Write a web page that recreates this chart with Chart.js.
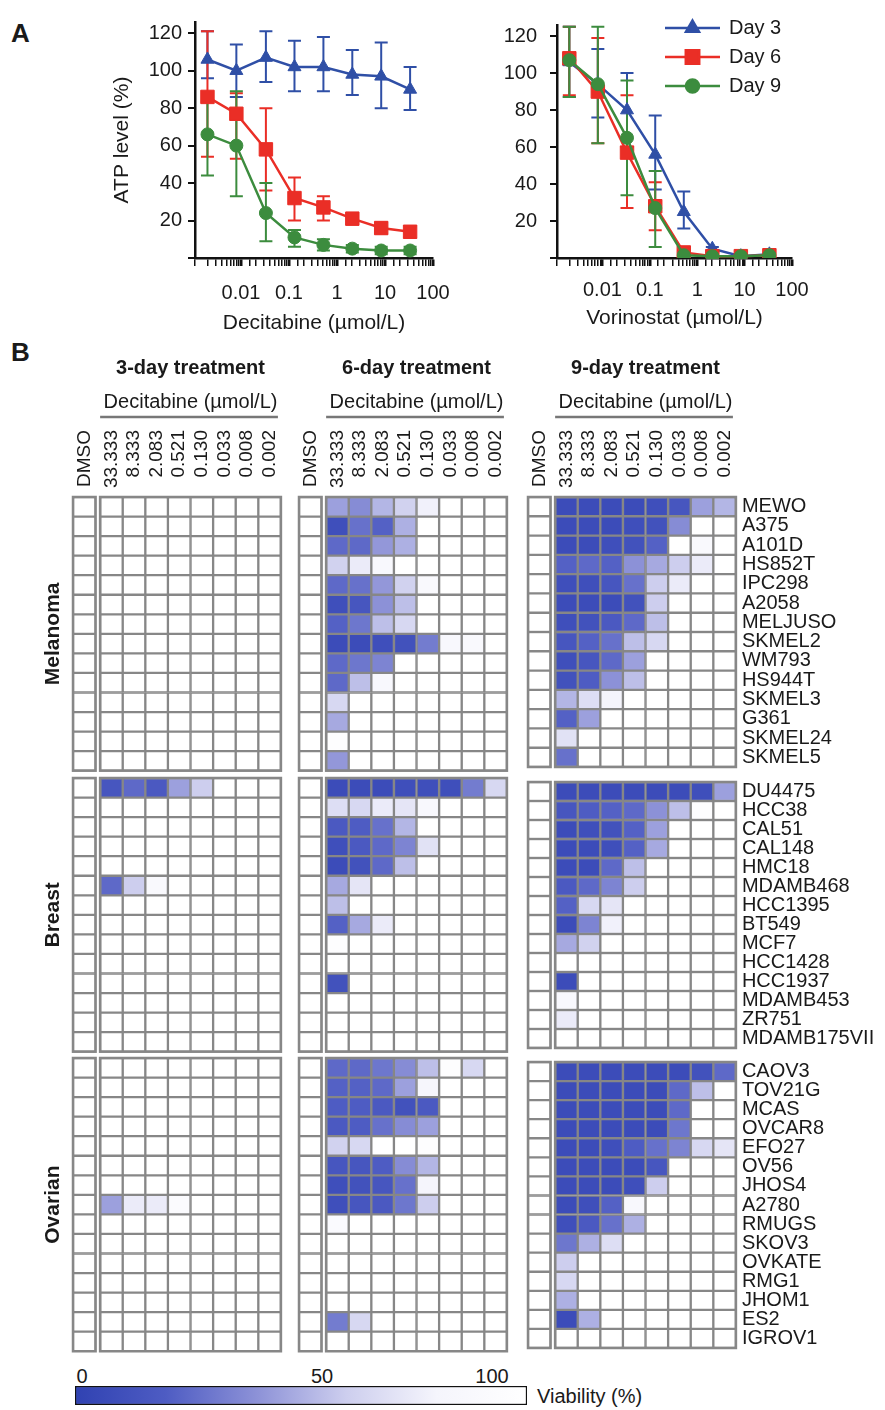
<!DOCTYPE html>
<html>
<head>
<meta charset="utf-8">
<script src="https://cdn.jsdelivr.net/npm/chart.js@4.4.1/dist/chart.umd.min.js"></script>
<style>
  html, body { margin: 0; padding: 0; background: #fff; }
  body { width: 885px; height: 1410px; position: relative; overflow: hidden;
         font-family: "Liberation Sans", Arial, sans-serif; color: #1a1a1a; }
  .panel { position: absolute; font-weight: bold; font-size: 26px; line-height: 1; }
  .lbl { position: absolute; font-size: 20px; line-height: 1; white-space: nowrap; transform: translate(-50%, -50%); }
</style>
</head>
<body>
<div class="panel" style="left:11px;top:20px">A</div>
<div class="panel" style="left:11px;top:339px">B</div>
<div class="lbl" style="left:82px;top:1376px">0</div>
<div class="lbl" style="left:322px;top:1376px">50</div>
<div class="lbl" style="left:492px;top:1376px">100</div>
<div class="lbl" style="left:537px;top:1396px;transform:translate(0,-50%)">Viability (%)</div>

<script>
// ---- Panel A data ----
const doses = [0.002, 0.008, 0.033, 0.130, 0.521, 2.083, 8.333, 33.333];

const decDay3 = [106, 100, 107, 102, 102, 98, 97, 90];
const decDay3Hi = [121, 114, 121, 116, 118, 111, 115, 102];
const decDay3Lo = [96, 86, 94, 89, 89, 87, 80, 79];
const decDay6 = [86, 77, 58, 32, 27, 21, 16, 14];
const decDay6Hi = [121, 88, 80, 43, 33, 24, 19, 17];
const decDay6Lo = [54, 53, 36, 20, 20, 18, 13, 11];
const decDay9 = [66, 60, 24, 11, 7, 5, 4, 4];
const decDay9Hi = [88, 89, 40, 15, 10, 7, 6, 6];
const decDay9Lo = [44, 33, 9, 6, 4, 3, 2, 2];

const vorDay3 = [106, 94, 80, 56, 25, 5, 1, 2];
const vorDay3Hi = [125, 113, 100, 77, 36, 6, 2, 3];
const vorDay3Lo = [87, 76, 60, 37, 16, 4, 0, 1];
const vorDay6 = [108, 90, 57, 28, 3, 1, 1, 1.5];
const vorDay6Hi = [125, 119, 88, 41, 4, 2, 2, 2.5];
const vorDay6Lo = [88, 62, 27, 15, 2, 0, 0, 0.5];
const vorDay9 = [107, 94, 65, 27, 1.5, 1, 1, 1.5];
const vorDay9Hi = [125, 125, 96, 47, 2, 2, 2, 2];
const vorDay9Lo = [87, 62, 34, 6, 1, 0, 0, 1];

// ---- Panel B data (viability %, columns: DMSO then 33.333 ... 0.002) ----
const concLabels = ['DMSO', '33.333', '8.333', '2.083', '0.521', '0.130', '0.033', '0.008', '0.002'];
const melanomaLines = ['MEWO', 'A375', 'A101D', 'HS852T', 'IPC298', 'A2058', 'MELJUSO', 'SKMEL2', 'WM793', 'HS944T', 'SKMEL3', 'G361', 'SKMEL24', 'SKMEL5'];
const breastLines = ['DU4475', 'HCC38', 'CAL51', 'CAL148', 'HMC18', 'MDAMB468', 'HCC1395', 'BT549', 'MCF7', 'HCC1428', 'HCC1937', 'MDAMB453', 'ZR751', 'MDAMB175VII'];
const ovarianLines = ['CAOV3', 'TOV21G', 'MCAS', 'OVCAR8', 'EFO27', 'OV56', 'JHOS4', 'A2780', 'RMUGS', 'SKOV3', 'OVKATE', 'RMG1', 'JHOM1', 'ES2', 'IGROV1'];

const mel3 = [
  [100,100,100,100,100,100,100,100,100], [100,100,100,100,100,100,100,100,100],
  [100,100,100,100,100,100,100,100,100], [100,100,100,100,100,100,100,100,100],
  [100,100,100,100,100,100,100,100,100], [100,100,100,100,100,100,100,100,100],
  [100,100,100,100,100,100,100,100,100], [100,100,100,100,100,100,100,100,100],
  [100,100,100,100,100,100,100,100,100], [100,100,100,100,100,100,100,100,100],
  [100,100,100,100,100,100,100,100,100], [100,100,100,100,100,100,100,100,100],
  [100,100,100,100,100,100,100,100,100], [100,100,100,100,100,100,100,100,100]
];
const mel6 = [
  [100,45,38,52,62,78,100,100,100],
  [100,10,28,22,50,100,100,100,100],
  [100,25,25,42,50,100,100,100,100],
  [100,62,75,85,100,100,100,100,100],
  [100,25,28,42,62,88,100,100,100],
  [100,10,15,40,55,100,100,100,100],
  [100,22,30,55,65,100,100,100,100],
  [100,8,8,10,12,32,85,88,100],
  [100,25,30,35,100,100,100,100,100],
  [100,25,55,85,100,100,100,100,100],
  [100,65,100,100,100,100,100,100,100],
  [100,48,100,100,100,100,100,100,100],
  [100,95,100,100,100,100,100,100,100],
  [100,42,100,100,100,100,100,100,100]
];
const mel9 = [
  [100,8,8,8,8,10,15,45,52],
  [100,8,8,8,10,12,38,100,100],
  [100,8,8,10,12,22,100,88,100],
  [100,22,25,22,40,48,60,75,100],
  [100,10,10,15,28,60,75,100,100],
  [100,8,8,8,12,60,100,100,100],
  [100,10,12,18,25,55,100,100,100],
  [100,15,22,28,55,65,100,100,100],
  [100,10,15,25,45,100,100,100,100],
  [100,12,20,40,55,100,100,100,100],
  [100,52,68,80,100,100,100,100,100],
  [100,22,45,100,100,100,100,100,100],
  [100,70,100,100,100,100,100,100,100],
  [100,28,100,100,100,100,100,100,100]
];
const brc3 = [
  [100,15,25,18,45,60,100,100,100],
  [100,100,100,100,100,100,100,100,100], [100,100,100,100,100,100,100,100,100],
  [100,100,100,100,100,100,100,100,100], [100,100,100,100,100,100,100,100,100],
  [100,25,60,88,100,100,100,100,100],
  [100,100,100,100,100,100,100,100,100], [100,100,100,100,100,100,100,100,100],
  [100,100,100,100,100,100,100,100,100], [100,100,100,100,100,100,100,100,100],
  [100,100,100,100,100,100,100,100,100], [100,100,100,100,100,100,100,100,100],
  [100,100,100,100,100,100,100,100,100], [100,100,100,100,100,100,100,100,100]
];
const brc6 = [
  [100,8,8,8,10,10,10,32,65],
  [100,68,65,75,72,85,100,100,100],
  [100,18,20,28,52,100,100,100,100],
  [100,10,18,25,35,70,100,100,100],
  [100,8,12,25,55,100,100,100,100],
  [100,48,72,100,100,100,100,100,100],
  [100,55,100,100,100,100,100,100,100],
  [100,22,48,75,100,100,100,100,100],
  [100,95,100,100,100,100,100,100,100],
  [100,100,100,100,100,100,100,100,100],
  [100,12,100,100,100,100,100,100,100],
  [100,100,100,100,100,100,100,100,100],
  [100,100,100,100,100,100,100,100,100],
  [100,100,100,100,100,100,100,100,100]
];
const brc9 = [
  [100,8,8,8,8,8,8,10,45],
  [100,15,20,22,25,40,55,95,100],
  [100,8,10,12,22,45,100,100,100],
  [100,8,8,10,22,48,100,100,100],
  [100,8,8,25,55,100,100,100,100],
  [100,18,25,35,60,100,100,100,100],
  [100,22,65,72,100,100,100,100,100],
  [100,8,35,78,100,100,100,100,100],
  [100,48,62,100,100,100,100,100,100],
  [100,100,100,100,100,100,100,100,100],
  [100,8,100,100,100,100,100,100,100],
  [100,85,100,100,100,100,100,100,100],
  [100,75,100,100,100,100,100,100,100],
  [100,100,100,100,100,100,100,100,100]
];
const ova3 = [
  [100,100,100,100,100,100,100,100,100], [100,100,100,100,100,100,100,100,100],
  [100,100,100,100,100,100,100,100,100], [100,100,100,100,100,100,100,100,100],
  [100,100,100,100,100,100,100,100,100], [100,100,100,100,100,100,100,100,100],
  [100,100,100,100,100,100,100,100,100],
  [100,45,75,75,92,100,100,100,100],
  [100,100,100,100,100,100,100,100,100], [100,100,100,100,100,100,100,100,100],
  [100,100,100,100,100,100,100,100,100], [100,100,100,100,100,100,100,100,100],
  [100,100,100,100,100,100,100,100,100], [100,100,100,100,100,100,100,100,100],
  [100,100,100,100,100,100,100,100,100]
];
const ova6 = [
  [100,25,25,30,38,55,95,65,100],
  [100,22,22,25,45,82,100,100,100],
  [100,20,20,18,12,18,100,100,100],
  [100,18,20,28,38,45,100,100,100],
  [100,62,65,100,100,95,100,100,100],
  [100,15,15,20,38,52,100,100,100],
  [100,10,12,15,28,80,100,100,100],
  [100,10,15,18,30,60,100,100,100],
  [100,90,100,100,100,100,100,100,100],
  [100,100,100,100,100,100,100,100,100],
  [100,100,100,100,100,100,100,100,100],
  [100,100,100,100,100,100,100,100,100],
  [100,100,100,100,100,100,100,100,100],
  [100,32,65,100,100,100,100,100,100],
  [100,100,100,100,100,100,100,100,100]
];
const ova9 = [
  [100,8,8,8,8,8,8,12,25],
  [100,8,8,8,8,8,25,55,100],
  [100,8,8,8,8,8,25,100,100],
  [100,8,8,8,8,8,30,100,100],
  [100,8,8,10,20,28,35,65,72],
  [100,8,8,8,8,15,100,100,100],
  [100,8,8,8,10,60,100,100,100],
  [100,8,10,22,85,100,100,100,100],
  [100,10,18,28,50,100,100,100,100],
  [100,30,50,68,100,100,100,100,100],
  [100,60,100,100,100,100,100,100,100],
  [100,65,100,100,100,100,100,100,100],
  [100,50,100,100,100,100,100,100,100],
  [100,8,50,100,100,100,100,100,100],
  [100,100,100,100,100,100,100,100,100]
];

// colour ramp for viability (0 = dark blue, 100 = white)
const viaStops = [[0, 48, 66, 178], [20, 78, 92, 195], [40, 140, 145, 215], [60, 205, 206, 238], [80, 245, 245, 252], [100, 255, 255, 255]];

function viaColor(v) {
  for (let i = 1; i < viaStops.length; i++) {
    const a = viaStops[i - 1], b = viaStops[i];
    if (v <= b[0]) {
      const t = (v - a[0]) / (b[0] - a[0]);
      const c = [1, 2, 3].map(k => Math.round(a[k] + (b[k] - a[k]) * t));
      return `rgb(${c[0]},${c[1]},${c[2]})`;
    }
  }
  return '#fff';
}

Chart.defaults.font.family = '"Liberation Sans", Arial, sans-serif';
Chart.defaults.color = '#1a1a1a';
Chart.defaults.animation = false;
Chart.defaults.events = [];
Chart.defaults.plugins.legend.display = false;
Chart.defaults.plugins.tooltip.enabled = false;

function makeCanvas(left, top, w, h) {
  const c = document.createElement('canvas');
  c.width = w; c.height = h;
  c.style.cssText = `position:absolute;left:${left}px;top:${top}px;width:${w}px;height:${h}px`;
  document.body.appendChild(c);
  return c.getContext('2d');
}

// ---- Panel A: dose-response line charts ----
function isDecade(v) {
  const l = Math.log10(v);
  return Math.abs(l - Math.round(l)) < 1e-6;
}

const errorBars = {
  id: 'errorBars',
  beforeDatasetsDraw(chart) {
    const { ctx, scales: { x, y } } = chart;
    chart.data.datasets.forEach(ds => {
      ctx.save();
      ctx.strokeStyle = ds.borderColor;
      ctx.lineWidth = 2;
      ds.data.forEach((p, i) => {
        const px = x.getPixelForValue(p.x);
        const top = y.getPixelForValue(ds.errHi[i]);
        const bot = y.getPixelForValue(ds.errLo[i]);
        ctx.beginPath();
        ctx.moveTo(px, top); ctx.lineTo(px, bot);
        ctx.moveTo(px - 6.5, top); ctx.lineTo(px + 6.5, top);
        ctx.moveTo(px - 6.5, bot); ctx.lineTo(px + 6.5, bot);
        ctx.stroke();
      });
      ctx.restore();
    });
  }
};

// legend drawn as line + marker, like the original
const legendRowY = [28, 57, 86];
const lineLegend = {
  id: 'lineLegend',
  afterDraw(chart) {
    const ctx = chart.ctx;
    chart.data.datasets.forEach((ds, i) => {
      const y = legendRowY[i];
      ctx.save();
      ctx.strokeStyle = ds.borderColor;
      ctx.fillStyle = ds.borderColor;
      ctx.lineWidth = 2.5;
      ctx.beginPath(); ctx.moveTo(195, y); ctx.lineTo(250, y); ctx.stroke();
      Chart.helpers.drawPoint(ctx, { pointStyle: ds.pointStyle, radius: ds.pointRadius, rotation: 0, borderWidth: 1 }, 222.5, y);
      ctx.fillStyle = '#1a1a1a';
      ctx.font = '20px "Liberation Sans", Arial, sans-serif';
      ctx.textAlign = 'left';
      ctx.textBaseline = 'middle';
      ctx.fillText(ds.label, 259, y);
      ctx.restore();
    });
  }
};

const seriesStyle = [
  { label: 'Day 3', color: '#2f4fa6', style: 'triangle', radius: 7.5, order: 2 },
  { label: 'Day 6', color: '#ea2e26', style: 'rect', radius: 9.5, order: 1 },
  { label: 'Day 9', color: '#3c8c3e', style: 'circle', radius: 6.5, order: 0 }
];

function doseChart(o) {
  const ctx = makeCanvas(o.left, 0, o.width, o.height);
  return new Chart(ctx, {
    type: 'line',
    data: {
      datasets: o.series.map((s, k) => ({
        label: seriesStyle[k].label,
        data: doses.map((d, i) => ({ x: d, y: s[0][i] })),
        errHi: s[1],
        errLo: s[2],
        borderColor: seriesStyle[k].color,
        backgroundColor: seriesStyle[k].color,
        pointBackgroundColor: seriesStyle[k].color,
        pointBorderColor: seriesStyle[k].color,
        pointStyle: seriesStyle[k].style,
        pointRadius: seriesStyle[k].radius,
        pointBorderWidth: 1,
        borderWidth: 2.5,
        tension: 0,
        order: seriesStyle[k].order
      }))
    },
    options: {
      responsive: false,
      layout: { padding: { top: 22, right: o.padRight, left: 0, bottom: 0 } },
      scales: {
        x: {
          type: 'logarithmic',
          min: 0.0011,
          max: 100,
          afterFit: s => { s.height = o.xAxisH; },
          border: { display: true, color: '#111', width: 2.5 },
          grid: {
            drawOnChartArea: false, drawTicks: true, tickLength: 8, color: '#111',
            lineWidth: c => (c.tick && isDecade(c.tick.value) ? 2.5 : 1.5)
          },
          ticks: {
            autoSkip: false, maxRotation: 0, minRotation: 0, padding: o.xPad,
            font: { size: 20 }, color: '#1a1a1a',
            callback: v => (isDecade(v) && v >= 0.009 ? String(Number(v.toPrecision(3))) : '')
          },
          title: { display: true, text: o.xTitle, font: { size: 21 }, color: '#1a1a1a', padding: { top: 4, bottom: 4 } }
        },
        y: {
          min: 0,
          max: 126,
          afterFit: s => { s.width = o.yAxisW; },
          border: { display: true, color: '#111', width: 2.5 },
          grid: { drawOnChartArea: false, drawTicks: true, tickLength: 7, color: '#111', lineWidth: 2 },
          ticks: {
            stepSize: 20, includeBounds: false, padding: o.yPad,
            font: { size: 20 }, color: '#1a1a1a',
            callback: v => (v === 0 ? '' : v)
          },
          title: { display: !!o.yTitle, text: o.yTitle || '', font: { size: 21 }, color: '#1a1a1a', padding: { top: 4, bottom: 4 } }
        }
      }
    },
    plugins: o.legend ? [errorBars, lineLegend] : [errorBars]
  });
}

doseChart({
  left: 106, width: 380, height: 340, padRight: 53, xAxisH: 82, yAxisW: 89, xPad: 15, yPad: 6,
  xTitle: 'Decitabine (µmol/L)', yTitle: 'ATP level (%)',
  series: [[decDay3, decDay3Hi, decDay3Lo], [decDay6, decDay6Hi, decDay6Lo], [decDay9, decDay9Hi, decDay9Lo]]
});
doseChart({
  left: 470, width: 415, height: 335, padRight: 93, xAxisH: 77, yAxisW: 87, xPad: 12, yPad: 13,
  xTitle: 'Vorinostat (µmol/L)', legend: true,
  series: [[vorDay3, vorDay3Hi, vorDay3Lo], [vorDay6, vorDay6Hi, vorDay6Lo], [vorDay9, vorDay9Hi, vorDay9Lo]]
});

// ---- Panel B: heatmaps as stacked horizontal bars ----
const cellW = 22.6, rowH = 19.55, gapCols = 0.2, nCols = 9;
const dayLeft = [73, 299, 528];
const groupTop = [497, 778, 1058];
const headerH = 147, pad = 4, padV = 14, titleAxisW = 36, nameAxisW = 150;
const gridGrey = '#878787';
const dayTitles = ['3-day treatment', '6-day treatment', '9-day treatment'];
const groups = [
  { name: 'Melanoma', lines: melanomaLines, days: [mel3, mel6, mel9] },
  { name: 'Breast', lines: breastLines, days: [brc3, brc6, brc9] },
  { name: 'Ovarian', lines: ovarianLines, days: [ova3, ova6, ova9] }
];

const frames = {
  id: 'frames',
  afterDatasetsDraw(chart) {
    const { ctx, chartArea: a, scales: { x } } = chart;
    ctx.save();
    ctx.strokeStyle = gridGrey;
    ctx.lineWidth = 2.5;
    [[0, 1], [1 + gapCols, nCols + gapCols]].forEach(([s, e]) => {
      const l = x.getPixelForValue(s), r = x.getPixelForValue(e);
      ctx.strokeRect(l, a.top, r - l, a.bottom - a.top);
    });
    ctx.restore();
  }
};

function headerPlugin(title) {
  return {
    id: 'header',
    afterDraw(chart) {
      const { ctx, chartArea: a, scales: { x } } = chart;
      const c0 = x.getPixelForValue(1 + gapCols), c1 = x.getPixelForValue(nCols + gapCols);
      const mid = (c0 + c1) / 2;
      ctx.save();
      ctx.fillStyle = '#1a1a1a';
      ctx.textAlign = 'center';
      ctx.textBaseline = 'middle';
      ctx.font = 'bold 20px "Liberation Sans", Arial, sans-serif';
      ctx.fillText(title, mid, a.top - 129);
      ctx.font = '20px "Liberation Sans", Arial, sans-serif';
      ctx.fillText('Decitabine (µmol/L)', mid, a.top - 95);
      ctx.strokeStyle = '#777';
      ctx.lineWidth = 2.5;
      ctx.beginPath(); ctx.moveTo(c0, a.top - 80); ctx.lineTo(c1 - 3, a.top - 80); ctx.stroke();
      ctx.font = '19px "Liberation Sans", Arial, sans-serif';
      ctx.textAlign = 'right';
      concLabels.forEach((lab, c) => {
        const v = c === 0 ? 0.5 : gapCols + c + 0.5;
        ctx.save();
        ctx.translate(x.getPixelForValue(v), a.top - 67);
        ctx.rotate(-Math.PI / 2);
        ctx.fillText(lab, 0, 0);
        ctx.restore();
      });
      ctx.restore();
    }
  };
}

function heatmap(d, g) {
  const grp = groups[g];
  const vals = grp.days[d];
  const rows = grp.lines.length;
  const areaW = (nCols + gapCols) * cellW;
  const areaH = rows * rowH;
  const leftAxis = d === 0 ? titleAxisW : 0;
  const rightAxis = d === 2 ? nameAxisW : 0;
  const padTop = g === 0 ? headerH : padV;
  const cLeft = Math.floor(dayLeft[d] - leftAxis - pad);
  const cTop = Math.floor(groupTop[g] - padTop);
  const w = Math.ceil(dayLeft[d] - cLeft + areaW + rightAxis + pad);
  const h = Math.ceil(groupTop[g] - cTop + areaH + padV);
  const padL = dayLeft[d] - leftAxis - cLeft;
  const padT = groupTop[g] - cTop;

  const datasets = [];
  for (let c = 0; c < nCols; c++) {
    if (c === 1) {
      datasets.push({ data: vals.map(() => gapCols), backgroundColor: 'rgba(0,0,0,0)', borderWidth: 0 });
    }
    datasets.push({
      data: vals.map(() => 1),
      backgroundColor: vals.map(r => viaColor(r[c])),
      borderColor: gridGrey,
      borderWidth: 1.5,
      borderSkipped: false
    });
  }

  let yScale;
  if (d === 0) {
    yScale = {
      stacked: true, position: 'left',
      afterFit: s => { s.width = titleAxisW; },
      grid: { display: false, drawTicks: false }, border: { display: false },
      ticks: { display: false },
      title: { display: true, text: grp.name, font: { size: 21, weight: 'bold' }, color: '#1a1a1a', padding: { top: 4, bottom: 4 } }
    };
  } else if (d === 2) {
    yScale = {
      stacked: true, position: 'right',
      afterFit: s => { s.width = nameAxisW; },
      grid: { display: false, drawTicks: false }, border: { display: false },
      ticks: { autoSkip: false, padding: 6, font: { size: 20 }, color: '#1a1a1a' }
    };
  } else {
    yScale = { stacked: true, display: false };
  }

  const ctx = makeCanvas(cLeft, cTop, w, h);
  return new Chart(ctx, {
    type: 'bar',
    data: { labels: grp.lines, datasets },
    options: {
      indexAxis: 'y',
      responsive: false,
      datasets: { bar: { barPercentage: 1, categoryPercentage: 1 } },
      layout: {
        padding: {
          left: padL, top: padT,
          right: w - padL - leftAxis - areaW - rightAxis,
          bottom: h - padT - areaH
        }
      },
      scales: {
        x: { stacked: true, display: false, min: 0, max: nCols + gapCols },
        y: yScale
      }
    },
    plugins: g === 0 ? [frames, headerPlugin(dayTitles[d])] : [frames]
  });
}

for (let g = 0; g < 3; g++) {
  for (let d = 0; d < 3; d++) heatmap(d, g);
}

// ---- colour scale bar ----
const scaleCtx = makeCanvas(70, 1380, 465, 30);
new Chart(scaleCtx, {
  type: 'bar',
  data: {
    labels: ['Viability'],
    datasets: [{
      data: [[0, 100]],
      backgroundColor: c => {
        const a = c.chart.chartArea;
        if (!a) return '#fff';
        const grad = c.chart.ctx.createLinearGradient(a.left, 0, a.right, 0);
        viaStops.forEach(s => grad.addColorStop(s[0] / 100, viaColor(s[0])));
        return grad;
      },
      borderColor: '#111',
      borderWidth: 1.5,
      borderSkipped: false,
      barPercentage: 1,
      categoryPercentage: 1
    }]
  },
  options: {
    indexAxis: 'y',
    responsive: false,
    layout: { padding: { left: 5, right: 8, top: 6, bottom: 5 } },
    scales: { x: { display: false, min: 0, max: 100 }, y: { display: false } }
  }
});
</script>
</body>
</html>
